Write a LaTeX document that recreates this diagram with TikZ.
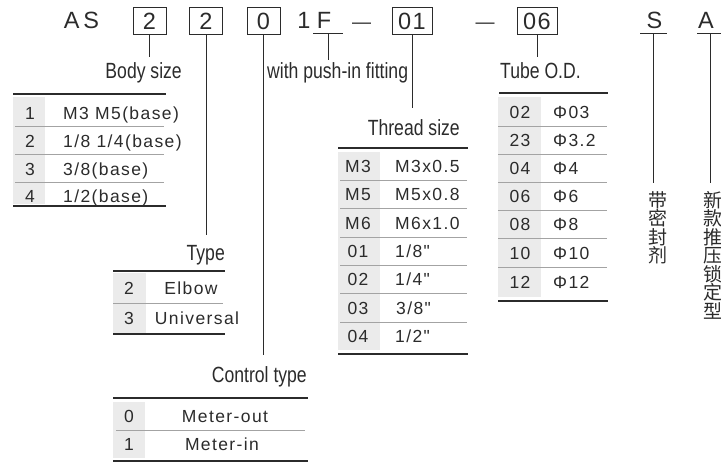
\documentclass[tikz,border=0pt]{standalone}
\usepackage{fontspec}
\setmainfont{Liberation Sans}
\newfontfamily\topfam[LetterSpace=6]{Liberation Sans}
\newfontfamily\cellfam[LetterSpace=8]{Liberation Sans}
\newfontfamily\narrowfam[FakeStretch=0.8]{Liberation Sans}
\newfontfamily\cjkfam{Noto Sans CJK SC}
\newcommand\topfont{\fontsize{23.5}{25}\topfam}
\newcommand\cellfont{\fontsize{17.5}{19}\cellfam}
\newcommand\lblfont{\fontsize{22}{24}\narrowfam}
\newcommand\vertfont{\fontsize{19}{18.5}\cjkfam}
\usepackage{tikz}

\definecolor{ink}{HTML}{2B2B2B}
\definecolor{cellgray}{HTML}{EBEBEB}
\definecolor{rulegray}{HTML}{A3A3A3}

\begin{document}
\begin{tikzpicture}[x=1pt,y=1pt,
    every node/.style={text=ink},
    box/.style={draw=ink,line width=0.9pt,inner sep=0pt,minimum width=33pt,minimum height=27pt,font=\topfont},
    big/.style={inner sep=0pt,anchor=base,font=\topfont},
    title/.style={inner sep=0pt,anchor=base east,font=\lblfont},
    code/.style={inner sep=0pt,anchor=base,font=\cellfont},
    val/.style={inner sep=0pt,anchor=base west,font=\cellfont},
    vert/.style={inner sep=0pt,anchor=north,align=center,font=\vertfont},
    stub/.style={draw=ink,line width=0.9pt},
    rule/.style={draw=ink,line width=1.3pt},
    sep/.style={draw=rulegray,line width=0.6pt}]
        \useasboundingbox (0,0) rectangle (721,-466);

        % model code
        \node[big] (as) at (81.5,-28.5) {A\kern4pt S};
        \node[box] (box1) at (149.5,-21) {2};
        \node[box] (box2) at (206,-21) {2};
        \node[box] (box3) at (263.5,-21) {0};
        \node[big] (one) at (304,-28.5) {1};
        \node[big] (fit) at (324,-28.5) {F};
        \node[big] (dash1) at (361.5,-28.5) {\fontsize{19}{20}\selectfont —};
        \node[box,minimum width=40pt] (box4) at (412,-21) {01};
        \node[big] (dash2) at (485,-28.5) {\fontsize{19}{20}\selectfont —};
        \node[box,minimum width=40pt] (box5) at (537,-21) {06};
        \node[big] (seal) at (654.5,-28.5) {S};
        \node[big] (lock) at (706,-28.5) {A};

        \coordinate (f1) at (313,-33);
        \coordinate (f2) at (343,-33);
        \coordinate (fm) at (328,-33);
        \coordinate (s1) at (640,-33);
        \coordinate (s2) at (667,-33);
        \coordinate (sm) at (653,-33);
        \coordinate (a1) at (697,-33);
        \coordinate (a2) at (723,-33);
        \coordinate (am) at (710,-33);
        \draw[stub] (f1) -- (f2);
        \draw[stub] (s1) -- (s2);
        \draw[stub] (a1) -- (a2);

        \coordinate (e1) at (149.5,-57);
        \coordinate (e2) at (206,-235);
        \coordinate (e3) at (263.5,-355);
        \coordinate (e4) at (328,-60);
        \coordinate (e5) at (412,-108);
        \coordinate (e6) at (537,-57);
        \coordinate (e7) at (653,-183);
        \coordinate (e8) at (710,-183);
        \draw[stub] (box1) -- (e1);
        \draw[stub] (box2) -- (e2);
        \draw[stub] (box3) -- (e3);
        \draw[stub] (fm) -- (e4);
        \draw[stub] (box4) -- (e5);
        \draw[stub] (box5) -- (e6);
        \draw[stub] (sm) -- (e7);
        \draw[stub] (am) -- (e8);

        \node[title] (bsize) at (182,-78) {Body size};
        \node[title,anchor=base west] (push) at (267,-78) {with push-in fitting};
        \node[title] (thread) at (460,-135) {Thread size};
        \node[title,anchor=base west] (tube) at (500,-78) {Tube O.D.};
        \node[title] (type) at (225,-260) {Type};
        \node[title] (ctrl) at (307,-382) {Control type};

        \node[vert] (sealtxt) at (658,-191) {带\\密\\封\\剂};
        \node[vert] (locktxt) at (713,-191) {新\\款\\推\\压\\锁\\定\\型};

        % body size
        \fill[cellgray] (13,-97) rectangle (45,-204);
        \draw[sep] (15,-126) -- (164,-126);
        \draw[sep] (15,-154) -- (164,-154);
        \draw[sep] (15,-182) -- (164,-182);
        \draw[rule] (13,-94) -- (166,-94);
        \draw[rule] (13,-206) -- (166,-206);
        \node[code] (b1) at (30,-119) {1};
        \node[code] (b2) at (30,-147) {2};
        \node[code] (b3) at (30,-175) {3};
        \node[code] (b4) at (30,-202) {4};
        \node[val] (bv1) at (63,-119) {M3 M5(base)};
        \node[val] (bv2) at (63,-147) {1/8 1/4(base)};
        \node[val] (bv3) at (63,-175) {3/8(base)};
        \node[val] (bv4) at (63,-202) {1/2(base)};

        % type
        \fill[cellgray] (113,-273) rectangle (146,-333);
        \draw[sep] (113,-303) -- (223,-303);
        \draw[rule] (113,-271) -- (225,-271);
        \draw[rule] (113,-334) -- (225,-334);
        \node[code] (t1) at (129,-294.5) {2};
        \node[code] (t2) at (129,-324.5) {3};
        \node[code] (tv1) at (191,-294.5) {Elbow};
        \node[code] (tv2) at (197,-324.5) {Universal};

        % control type
        \fill[cellgray] (113,-402) rectangle (145,-458);
        \draw[sep] (116,-430) -- (305,-430);
        \draw[rule] (113,-398) -- (308,-398);
        \draw[rule] (113,-461) -- (308,-461);
        \node[code] (c1) at (129,-422.5) {0};
        \node[code] (c2) at (129,-450.5) {1};
        \node[code] (cv1) at (225,-422.5) {Meter-out};
        \node[code] (cv2) at (222,-450.5) {Meter-in};

        % thread size
        \fill[cellgray] (338,-152) rectangle (380,-350);
        \draw[sep] (340,-180) -- (467,-180);
        \draw[sep] (340,-208) -- (467,-208);
        \draw[sep] (340,-237) -- (467,-237);
        \draw[sep] (340,-265) -- (467,-265);
        \draw[sep] (340,-293) -- (467,-293);
        \draw[sep] (340,-322) -- (467,-322);
        \draw[rule] (338,-148) -- (468,-148);
        \draw[rule] (338,-354) -- (468,-354);
        \node[code] (r1) at (358,-172.5) {M3};
        \node[code] (r2) at (358,-200.5) {M5};
        \node[code] (r3) at (358,-229) {M6};
        \node[code] (r4) at (358,-257.5) {01};
        \node[code] (r5) at (358,-285.5) {02};
        \node[code] (r6) at (358,-314) {03};
        \node[code] (r7) at (358,-342.5) {04};
        \node[val] (rv1) at (395,-172.5) {M3x0.5};
        \node[val] (rv2) at (395,-200.5) {M5x0.8};
        \node[val] (rv3) at (395,-229) {M6x1.0};
        \node[val] (rv4) at (395,-257.5) {1/8"};
        \node[val] (rv5) at (395,-285.5) {1/4"};
        \node[val] (rv6) at (396,-314) {3/8"};
        \node[val] (rv7) at (395,-342.5) {1/2"};

        % tube o.d.
        \fill[cellgray] (498,-97) rectangle (541,-297);
        \draw[sep] (498,-126) -- (607,-126);
        \draw[sep] (498,-154) -- (607,-154);
        \draw[sep] (498,-182) -- (607,-182);
        \draw[sep] (498,-210) -- (607,-210);
        \draw[sep] (498,-238) -- (607,-238);
        \draw[sep] (498,-267) -- (607,-267);
        \draw[rule] (499,-93) -- (608,-93);
        \draw[rule] (498,-301) -- (608,-301);
        \node[code] (d1) at (520,-118) {02};
        \node[code] (d2) at (520,-146.5) {23};
        \node[code] (d3) at (520,-174.5) {04};
        \node[code] (d4) at (520,-202.5) {06};
        \node[code] (d5) at (520,-230.5) {08};
        \node[code] (d6) at (520,-259) {10};
        \node[code] (d7) at (520,-288) {12};
        \node[val] (dv1) at (553,-118) {Φ03};
        \node[val] (dv2) at (553,-146.5) {Φ3.2};
        \node[val] (dv3) at (553,-174.5) {Φ4};
        \node[val] (dv4) at (553,-202.5) {Φ6};
        \node[val] (dv5) at (553,-230.5) {Φ8};
        \node[val] (dv6) at (553,-259) {Φ10};
        \node[val] (dv7) at (553,-288) {Φ12};
\end{tikzpicture}
\end{document}
